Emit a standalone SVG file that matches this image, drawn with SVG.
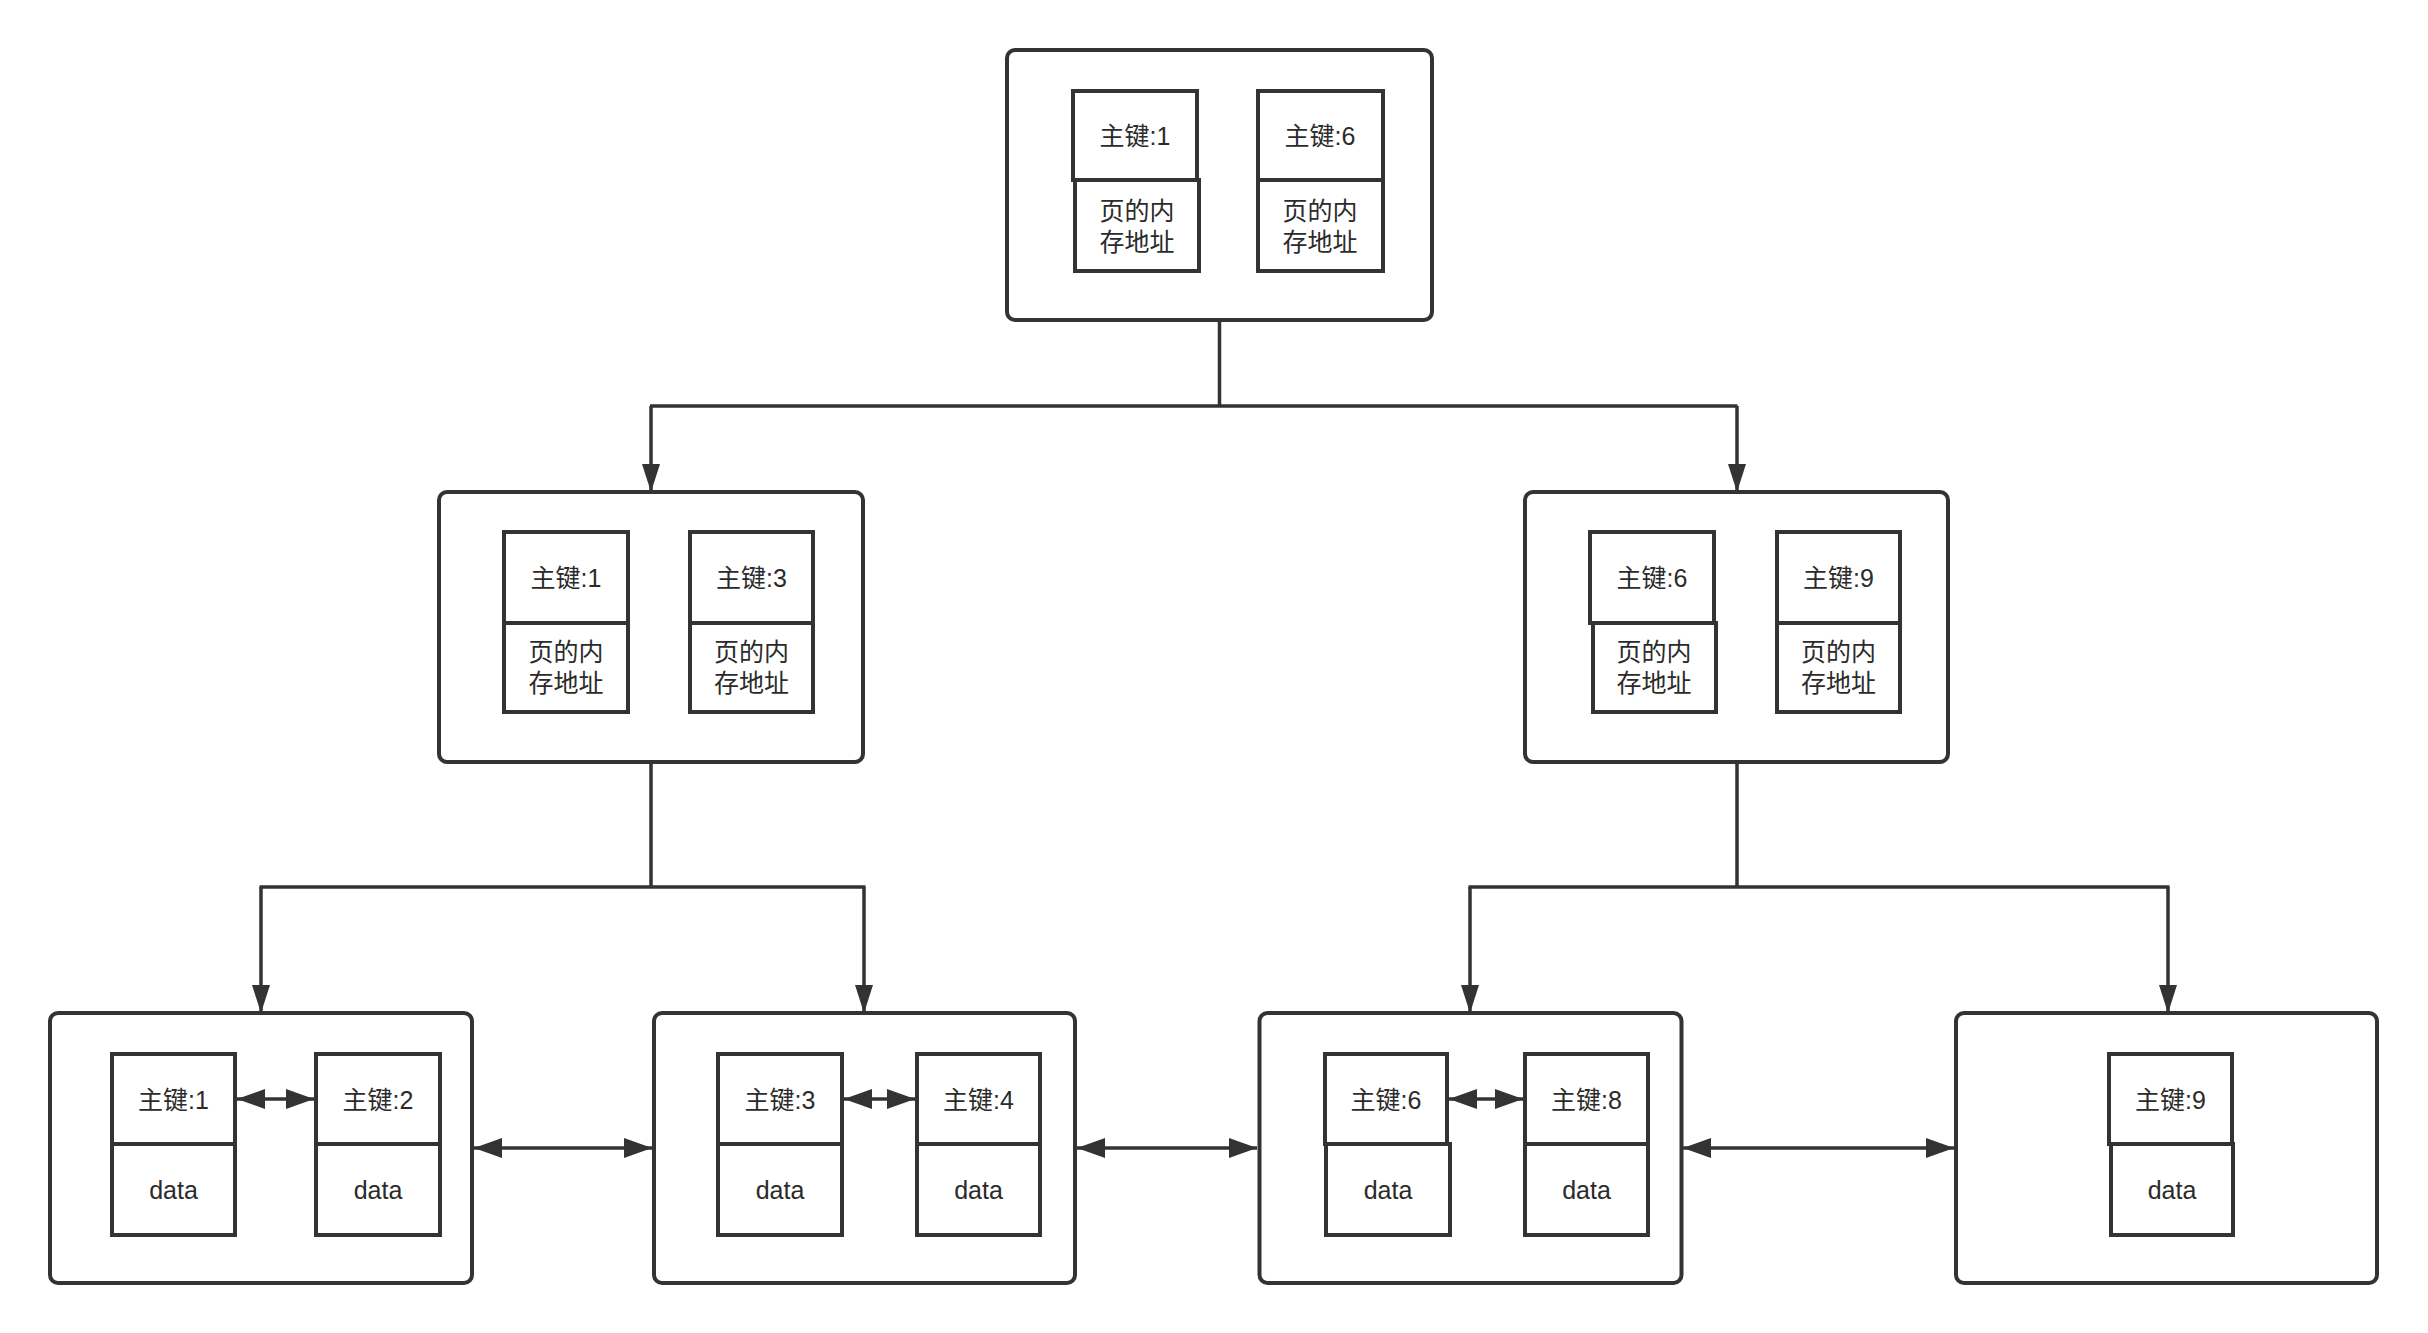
<svg xmlns="http://www.w3.org/2000/svg" width="2428" height="1333" viewBox="0 0 2428 1333">
<defs>
<style>
.page{fill:#fff;stroke:#333;stroke-width:4}
.cell{fill:#fff;stroke:#333;stroke-width:4}
.t{font-family:"Liberation Sans","Noto Sans CJK SC",sans-serif;font-size:25px;fill:#2b2b2b;text-anchor:middle;dominant-baseline:central}
.ln{fill:none;stroke:#333;stroke-width:3.5}
</style>
<marker id="ah" markerUnits="userSpaceOnUse" markerWidth="28" markerHeight="20" refX="28" refY="10" orient="auto-start-reverse" viewBox="0 0 28 20">
<path d="M0,0 L28,10 L0,20 z" fill="#333"/>
</marker>
<marker id="av" markerUnits="userSpaceOnUse" markerWidth="28" markerHeight="18" refX="28" refY="9" orient="auto" viewBox="0 0 28 18">
<path d="M0,0 L28,9 L0,18 z" fill="#333"/>
</marker>
</defs>
<rect x="0" y="0" width="2428" height="1333" fill="#fff"/>

<g id="connectors">
<path class="ln" d="M1219.5,322 V406 M650,406 H1737.5" />
<path class="ln" d="M651,406 V492" marker-end="url(#av)"/>
<path class="ln" d="M1737,406 V492" marker-end="url(#av)"/>
<path class="ln" d="M651,764 V887 M259.5,887 H865.5" />
<path class="ln" d="M1737,764 V887 M1468.5,887 H2169.5" />
<path class="ln" d="M261,887 V1013" marker-end="url(#av)"/>
<path class="ln" d="M864,887 V1013" marker-end="url(#av)"/>
<path class="ln" d="M1470,887 V1013" marker-end="url(#av)"/>
<path class="ln" d="M2168,887 V1013" marker-end="url(#av)"/>
<path class="ln" d="M474,1148 H652" marker-start="url(#ah)" marker-end="url(#ah)"/>
<path class="ln" d="M1077,1148 H1257" marker-start="url(#ah)" marker-end="url(#ah)"/>
<path class="ln" d="M1683,1148 H1954" marker-start="url(#ah)" marker-end="url(#ah)"/>
</g>

<g id="root">
<rect class="page" x="1007" y="50" width="425" height="270" rx="8"/>
<rect class="cell" x="1073" y="91" width="124" height="89"/>
<rect class="cell" x="1075" y="180" width="124" height="91"/>
<text class="t" x="1135" y="136">主键:1</text>
<text class="t" x="1137" y="211">页的内</text>
<text class="t" x="1137" y="242">存地址</text>
<rect class="cell" x="1258" y="91" width="125" height="89"/>
<rect class="cell" x="1258" y="180" width="125" height="91"/>
<text class="t" x="1320" y="136">主键:6</text>
<text class="t" x="1320" y="211">页的内</text>
<text class="t" x="1320" y="242">存地址</text>
</g>

<g id="mid-left">
<rect class="page" x="439" y="492" width="424" height="270" rx="8"/>
<rect class="cell" x="504" y="532" width="124" height="91"/>
<rect class="cell" x="504" y="623" width="124" height="89"/>
<text class="t" x="566" y="578">主键:1</text>
<text class="t" x="566" y="652">页的内</text>
<text class="t" x="566" y="683">存地址</text>
<rect class="cell" x="690" y="532" width="123" height="91"/>
<rect class="cell" x="690" y="623" width="123" height="89"/>
<text class="t" x="751.5" y="578">主键:3</text>
<text class="t" x="751.5" y="652">页的内</text>
<text class="t" x="751.5" y="683">存地址</text>
</g>

<g id="mid-right">
<rect class="page" x="1525" y="492" width="423" height="270" rx="8"/>
<rect class="cell" x="1590" y="532" width="124" height="91"/>
<rect class="cell" x="1593" y="623" width="123" height="89"/>
<text class="t" x="1652" y="578">主键:6</text>
<text class="t" x="1654" y="652">页的内</text>
<text class="t" x="1654" y="683">存地址</text>
<rect class="cell" x="1777" y="532" width="123" height="91"/>
<rect class="cell" x="1777" y="623" width="123" height="89"/>
<text class="t" x="1838.5" y="578">主键:9</text>
<text class="t" x="1838.5" y="652">页的内</text>
<text class="t" x="1838.5" y="683">存地址</text>
</g>

<g id="leaf1">
<rect class="page" x="50" y="1013" width="422" height="270" rx="8"/>
<rect class="cell" x="112" y="1054" width="123" height="90"/>
<rect class="cell" x="112" y="1144" width="123" height="91"/>
<text class="t" x="173.5" y="1100">主键:1</text>
<text class="t" x="173.5" y="1190">data</text>
<rect class="cell" x="316" y="1054" width="124" height="90"/>
<rect class="cell" x="316" y="1144" width="124" height="91"/>
<text class="t" x="378" y="1100">主键:2</text>
<text class="t" x="378" y="1190">data</text>
<path class="ln" d="M237,1099 H314" marker-start="url(#ah)" marker-end="url(#ah)"/>
</g>

<g id="leaf2">
<rect class="page" x="654" y="1013" width="421" height="270" rx="8"/>
<rect class="cell" x="718" y="1054" width="124" height="90"/>
<rect class="cell" x="718" y="1144" width="124" height="91"/>
<text class="t" x="780" y="1100">主键:3</text>
<text class="t" x="780" y="1190">data</text>
<rect class="cell" x="917" y="1054" width="123" height="90"/>
<rect class="cell" x="917" y="1144" width="123" height="91"/>
<text class="t" x="978.5" y="1100">主键:4</text>
<text class="t" x="978.5" y="1190">data</text>
<path class="ln" d="M844,1099 H915" marker-start="url(#ah)" marker-end="url(#ah)"/>
</g>

<g id="leaf3">
<rect class="page" x="1259.5" y="1013" width="422" height="270" rx="8"/>
<rect class="cell" x="1325" y="1054" width="122" height="90"/>
<rect class="cell" x="1326" y="1144" width="124" height="91"/>
<text class="t" x="1386" y="1100">主键:6</text>
<text class="t" x="1388" y="1190">data</text>
<rect class="cell" x="1525" y="1054" width="123" height="90"/>
<rect class="cell" x="1525" y="1144" width="123" height="91"/>
<text class="t" x="1586.5" y="1100">主键:8</text>
<text class="t" x="1586.5" y="1190">data</text>
<path class="ln" d="M1449,1099 H1523" marker-start="url(#ah)" marker-end="url(#ah)"/>
</g>

<g id="leaf4">
<rect class="page" x="1956" y="1013" width="421" height="270" rx="8"/>
<rect class="cell" x="2109" y="1054" width="123" height="90"/>
<rect class="cell" x="2111" y="1144" width="122" height="91"/>
<text class="t" x="2170.5" y="1100">主键:9</text>
<text class="t" x="2172" y="1190">data</text>
</g>
</svg>
